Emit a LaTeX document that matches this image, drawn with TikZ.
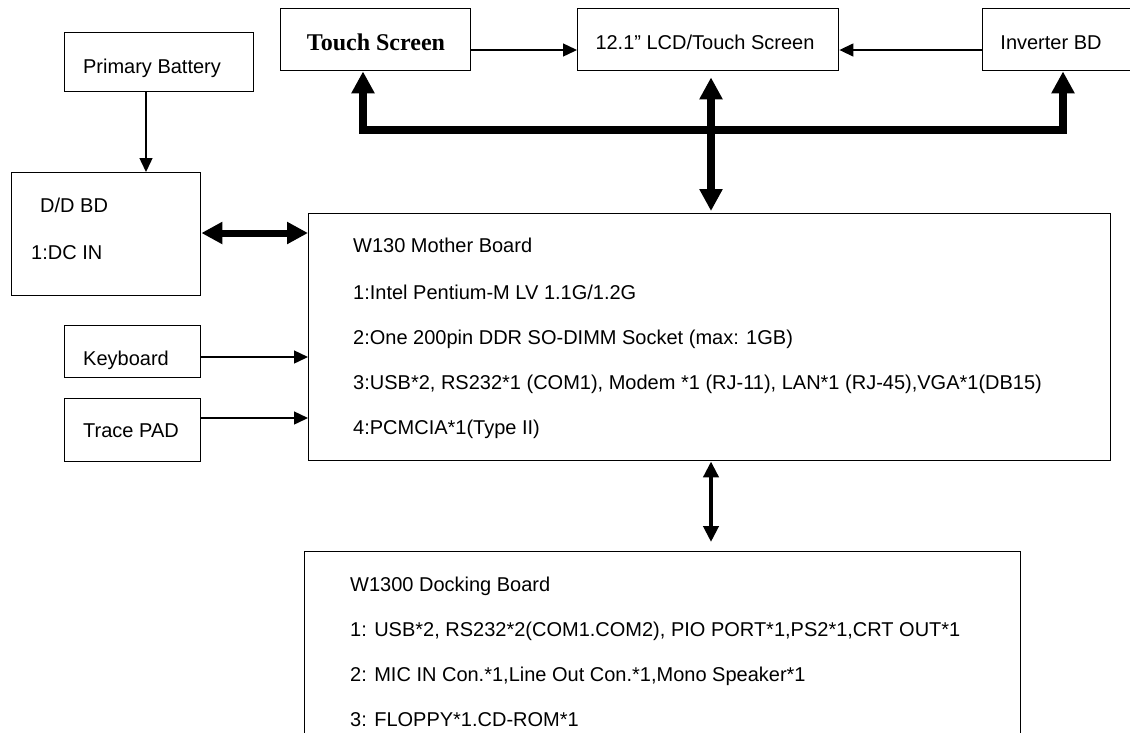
\documentclass[tikz,border=0pt]{standalone}
\usepackage{fontspec}
\setmainfont{Liberation Sans}
\newfontfamily\tnr{Liberation Serif}
\usetikzlibrary{arrows.meta,calc}
\tikzset{
  bigtip/.tip={Triangle[width=22pt,length=22pt]},
  midtip/.tip={Triangle[width=21pt,length=21pt]},
  smalltip/.tip={Triangle[width=13pt,length=14pt]},
  docktip/.tip={Triangle[width=15pt,length=16pt]}
}
\begin{document}
\begin{tikzpicture}[x=1pt,y=-1pt,
  box/.style={draw, line width=1.4pt, inner sep=0pt, anchor=north west},
  lbl/.style={font=\fontsize{20}{24}\selectfont, anchor=base west, inner sep=0pt},
  clbl/.style={font=\fontsize{20}{24}\selectfont, anchor=base, inner sep=0pt},
  thinarrow/.style={line width=1.4pt, -smalltip},
  thickarrow/.style={line width=8pt, bigtip-bigtip},
  medarrow/.style={line width=4pt, docktip-docktip}
]
\useasboundingbox (0,0) rectangle (1130,732);
\fill[white] (0,0) rectangle (1130,732);

% top row
\node[box, minimum width=190pt, minimum height=62pt] (ts) at (280,8) {};
\node[clbl, font=\tnr\bfseries\fontsize{24}{28}\selectfont] (tst) at (376,50) {Touch Screen};
\node[box, minimum width=261pt, minimum height=62pt] (lcd) at (577,8) {};
\node[clbl] (lcdt) at (705,49) {12.1” LCD/Touch Screen};
\node[box, minimum width=152pt, minimum height=62pt] (inv) at (982,8) {};
\node[clbl] (invt) at (1051,49) {Inverter BD};

% left column
\node[box, minimum width=189pt, minimum height=59pt] (bat) at (64,32) {};
\node[clbl] (batt) at (152,73) {Primary Battery};
\node[box, minimum width=189pt, minimum height=123pt] (dd) at (11,172) {};
\node[lbl] (ddt1) at (40,212) {D/D BD};
\node[lbl] (ddt2) at (31,259) {1:DC IN};
\node[box, minimum width=136pt, minimum height=52pt] (kb) at (64,325) {};
\node[clbl] (kbt) at (126,365) {Keyboard};
\node[box, minimum width=136pt, minimum height=63pt] (tp) at (64,398) {};
\node[clbl] (tpt) at (131,437) {Trace PAD};

% mother board
\node[box, minimum width=802pt, minimum height=247pt] (mb) at (308,213) {};
\node[lbl] (mb0) at (353,252) {W130 Mother Board};
\node[lbl] (mb1) at (353,299) {1:Intel Pentium-M LV 1.1G/1.2G};
\node[lbl] (mb2) at (353,344) {2:One 200pin DDR SO-DIMM Socket (max: 1GB)};
\node[lbl] (mb3) at (353,389) {3:USB*2, RS232*1 (COM1), Modem *1 (RJ-11), LAN*1 (RJ-45),VGA*1(DB15)};
\node[lbl] (mb4) at (353,434) {4:PCMCIA*1(Type II)};

% docking board
\node[box, minimum width=716pt, minimum height=220pt] (dock) at (304,551) {};
\node[lbl] (dk0) at (350,591) {W1300 Docking Board};
\node[lbl] (dk1) at (350,636) {1: USB*2, RS232*2(COM1.COM2), PIO PORT*1,PS2*1,CRT OUT*1};
\node[lbl] (dk2) at (350,681) {2: MIC IN Con.*1,Line Out Con.*1,Mono Speaker*1};
\node[lbl] (dk3) at (350,726) {3: FLOPPY*1.CD-ROM*1};

% helper coordinates
\coordinate (ya) at (0,50);
\coordinate (bl) at (363,130);
\coordinate (bm) at (711,130);
\coordinate (br) at (1063,130);
\coordinate (yd) at (0,233);
\coordinate (yk) at (0,357);
\coordinate (yt) at (0,418);
\coordinate (xb) at (146,0);

% top thin arrows
\draw[thinarrow] (ts.east |- ya) -- (lcd.west |- ya);
\draw[thinarrow] (inv.west |- ya) -- (lcd.east |- ya);

% thick bus
\draw[line width=8pt, line join=miter, bigtip-bigtip]
  (bl |- ts.south) -- (bl) -- (br) -- (br |- inv.south);
\draw[thickarrow] ($(bm |- lcd.south)+(0,6)$) -- ($(bm |- mb.north)+(0,-2)$);

% left arrows
\draw[thinarrow] (xb |- bat.south) -- (xb |- dd.north);
\draw[line width=7pt, midtip-midtip] (dd.east |- yd) -- (mb.west |- yd);
\draw[thinarrow] (kb.east |- yk) -- (mb.west |- yk);
\draw[thinarrow] (tp.east |- yt) -- (mb.west |- yt);

% mb to dock
\draw[medarrow] (bm |- mb.south) -- ($(bm |- dock.north)+(0,-9)$);
\end{tikzpicture}
\end{document}
